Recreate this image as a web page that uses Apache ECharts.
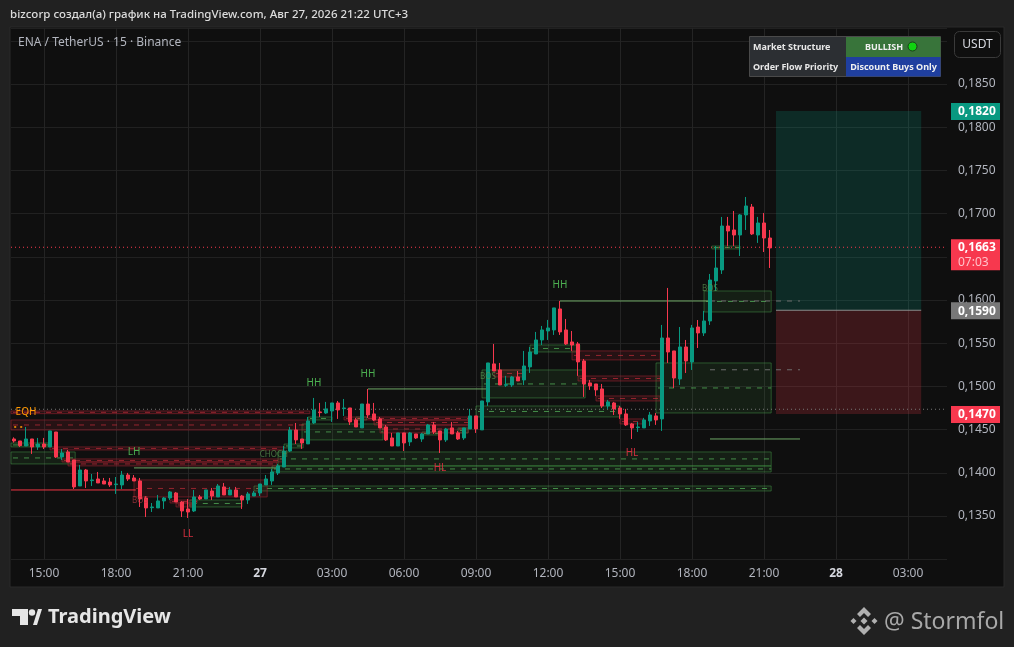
<!DOCTYPE html>
<html><head><meta charset="utf-8">
<style>html,body{margin:0;padding:0;background:#212121}#c{width:1014px;height:647px}</style>
<script src="https://cdn.jsdelivr.net/npm/echarts@6/dist/echarts.min.js"></script>
</head><body><div id="c"></div>
<script>
const opens=[.14391,.14368,.14310,.14391,.14299,.14333,.14299,.14472,.14183,.14241,.14148,.13847,.14032,.13909,.13928,.13905,.13893,.13863,.13859,.13974,.13940,.13905,.13708,.13596,.13593,.13674,.13708,.13766,.13662,.13581,.13558,.13720,.13697,.13789,.13720,.13836,.13743,.13801,.13731,.13685,.13731,.13766,.13859,.13905,.13998,.14067,.14252,.14495,.14391,.14334,.14577,.14704,.14692,.14715,.14808,.14742,.14750,.14611,.14519,.14796,.14681,.14623,.14530,.14403,.14310,.14461,.14357,.14449,.14391,.14449,.14553,.14484,.14380,.14519,.14461,.14403,.14507,.14658,.14496,.14820,.15260,.15190,.15013,.15016,.15109,.15074,.15225,.15375,.15537,.15641,.15653,.15896,.15653,.15514,.15491,.15294,.15040,.15028,.14970,.14773,.14808,.14750,.14681,.14565,.14523,.14519,.14600,.14658,.14623,.15560,.15410,.15086,.15456,.15282,.15687,.15618,.15757,.16220,.16347,.16856,.16810,.16752,.16984,.17076,.16752,.16891,.16717];
const closes=[.14368,.14314,.14391,.14299,.14333,.14299,.14484,.14183,.14229,.14125,.13836,.14032,.13905,.13917,.13882,.13870,.13859,.13870,.13974,.13928,.13905,.13697,.13593,.13604,.13674,.13708,.13778,.13662,.13558,.13546,.13720,.13697,.13801,.13731,.13847,.13743,.13801,.13720,.13685,.13755,.13766,.13870,.13928,.14009,.14079,.14252,.14495,.14380,.14345,.14600,.14727,.14696,.14739,.14808,.14727,.14750,.14588,.14530,.14796,.14669,.14611,.14519,.14380,.14310,.14461,.14345,.14461,.14403,.14449,.14553,.14472,.14380,.14507,.14449,.14391,.14519,.14658,.14507,.14831,.15271,.15178,.15016,.15020,.15109,.15063,.15236,.15398,.15537,.15653,.15676,.15908,.15630,.15491,.15479,.15283,.15028,.15005,.14959,.14773,.14820,.14739,.14681,.14554,.14519,.14530,.14611,.14669,.14611,.15560,.15398,.15097,.15456,.15294,.15676,.15618,.15757,.16231,.16370,.16856,.16798,.16752,.16984,.17088,.16764,.16891,.16717,.16602];
const lows=[.14349,.14299,.14310,.14218,.14264,.14275,.14299,.14171,.14148,.14125,.13812,.13847,.13824,.13847,.13882,.13870,.13836,.13755,.13812,.13905,.13905,.13604,.13488,.13546,.13593,.13581,.13685,.13662,.13488,.13477,.13546,.13685,.13697,.13685,.13720,.13743,.13743,.13720,.13581,.13639,.13731,.13731,.13859,.13859,.13974,.14067,.14241,.14333,.14276,.14334,.14565,.14646,.14681,.14588,.14623,.14658,.14553,.14530,.14519,.14634,.14600,.14519,.14368,.14310,.14310,.14252,.14310,.14391,.14357,.14449,.14449,.14229,.14357,.14449,.14380,.14380,.14507,.14461,.14496,.14773,.15178,.15016,.14993,.14993,.15063,.15016,.15155,.15375,.15479,.15537,.15595,.15595,.15479,.15410,.15121,.14878,.14959,.14889,.14750,.14739,.14669,.14623,.14542,.14391,.14472,.14519,.14542,.14554,.14484,.15271,.14981,.15016,.15155,.15190,.15444,.15583,.15711,.16104,.16301,.16625,.16625,.16509,.16810,.16752,.16660,.16555,.16370];
const highs=[.14410,.14368,.14530,.14391,.14403,.14403,.14484,.14472,.14275,.14264,.14148,.14090,.14044,.13986,.14009,.13940,.13940,.13951,.14021,.13998,.13974,.13940,.13731,.13650,.13743,.13720,.13789,.13778,.13674,.13697,.13801,.13743,.13801,.13824,.13870,.13882,.13836,.13836,.13743,.13778,.13789,.13870,.13974,.14044,.14102,.14310,.14530,.14576,.14391,.14646,.14866,.14808,.14820,.14808,.14831,.14854,.14750,.14634,.14796,.14970,.14808,.14646,.14553,.14461,.14461,.14461,.14472,.14449,.14461,.14565,.14588,.14484,.14519,.14588,.14484,.14519,.14739,.14658,.14831,.15271,.15491,.15271,.15121,.15121,.15178,.15410,.15456,.15630,.15699,.15769,.15908,.15989,.15780,.15641,.15514,.15317,.15074,.15028,.15028,.14843,.14820,.14773,.14739,.14577,.14588,.14635,.14704,.14692,.15711,.16139,.15410,.15687,.15537,.15711,.15768,.15873,.16301,.16625,.16961,.16961,.17030,.16995,.17192,.17111,.16961,.17007,.16810];

const xTickLabels=['15:00','18:00','21:00','27','03:00','06:00','09:00','12:00','15:00','18:00','21:00','28','03:00'];
const yTickLabels=['0,1350','0,1400','0,1450','0,1500','0,1550','0,1600','0,1650','0,1700','0,1750','0,1800','0,1850'];

// start candle, end candle, upper price, lower price
const bearZones=[[-.5,49.3,.14715,.14684],[-.5,49,.14611,.14495],[6,45,.14299,.14264],[8,45,.1416,.14125],[9,43.8,.14125,.14079],[20,42.2,.13917,.1372],[26,30.5,.13685,.1365],[27,29.8,.1365,.13604],[55,75.7,.14646,.14611],[60,75.7,.14611,.14553],[61,75.7,.14553,.14461],[80,84.8,.1519,.15109],[93,107.7,.1541,.15306],[94,107.7,.1512,.15062],[97,107.7,.14889,.14831],[101,104.8,.14623,.14565]];
const bullZones=[[-.5,6,.14345,.14299],[-.5,10.2,.14241,.14102],[29.3,38,.13685,.13604],[40,126.2,.13847,.13789],[44,126.2,.14241,.14079],[43,126.2,.14079,.14009],[45,48.2,.14333,.14287],[48,61.5,.14565,.1438],[49,53,.14646,.14611],[57,58.8,.14646,.14611],[68,71,.14472,.14437],[74,75.7,.14519,.14461],[77,101,.14773,.14646],[78,95.2,.1519,.14866],[86,94.3,.15479,.15398],[107,126.2,.15271,.14692],[115,126.2,.16104,.15861],[116.3,121,.16625,.1659]];
const longProfit=[[127,151.2,.18188,.15881]];
const longRisk=[[127,151.2,.15881,.14681]];

// start candle, end candle, price
const greenLevels=[[20,43.8,.14056],[59,78.7,.1497],[91,116,.15988],[116,131,.14391]];
const redLevels=[[-.5,20.3,.13801]];
const grayDashLevels=[[116,131,.15988],[116,131,.15192]];
const entryLevel=[[127,151.2,.15881]];
const lastPriceLevel=[[-.5,155.5,.16610]];
const stopDotLevel=[[-.5,155.5,.14735]];

// candle, price, text
const bullLabels=[[50,.1504,'HH'],[59,.15144,'HH'],[91,.16174,'HH'],[20,.14241,'LH']];
const bearLabels=[[29,.13292,'LL'],[71,.14056,'HL'],[103,.14229,'HL']];
const eqhLabels=[[2,.14704,'EQH']];
const dimBullLabels=[[79,.15109,'BOS'],[116,.16127,'BOS'],[43.3,.14206,'CHOCH']];
const dimBearLabels=[[21,.13674,'BOS']];
const eqhDots=[[0.2,.1453],[1.2,.1453]];

// price, text
const tpTag=[[.18188,'0,1820']];
const entryTag=[[.15881,'0,1590']];
const slTag=[[.14681,'0,1470']];
const lastTag=[[.1661,'0,1663','07:03']];

const categories=[];
for(let i=0;i<156;i++){
  const m=13*60+45+i*15, h=Math.floor(m/60)%24, d=Math.floor(m/1440);
  categories.push(h===0&&m%60===0?String(26+d):String(h).padStart(2,'0')+':'+String(m%60).padStart(2,'0'));
}
const isTick=(i,v)=>xTickLabels.includes(v);

const FONT='"Noto Sans",sans-serif';
const UP='#089981',DOWN='#f7384e';

function zoneSeries(data,fill,stroke,dashColor,z,dashed){
  return {type:'custom',xAxisIndex:1,yAxisIndex:0,z,data,encode:{x:[0,1],y:[2,3]},silent:true,
    renderItem(p,api){
      const a=api.coord([api.value(0),api.value(2)]),b=api.coord([api.value(1),api.value(3)]);
      const mid=(a[1]+b[1])/2;
      const kids=[{type:'rect',shape:{x:a[0],y:a[1],width:b[0]-a[0],height:b[1]-a[1]},style:{fill,stroke,lineWidth:1}}];
      if(dashed)kids.push({type:'line',shape:{x1:a[0]+2,y1:mid,x2:b[0],y2:mid},style:{stroke:dashColor,lineWidth:1,lineDash:[5,6]}});
      return {type:'group',children:kids};
    }};
}
function levelSeries(data,stroke,z,lineDash,width){
  return {type:'custom',xAxisIndex:1,yAxisIndex:0,z,data,encode:{x:[0,1],y:2},silent:true,
    renderItem(p,api){
      const a=api.coord([api.value(0),api.value(2)]),b=api.coord([api.value(1),api.value(2)]);
      return {type:'line',shape:{x1:a[0],y1:a[1],x2:b[0],y2:b[1]},style:{stroke,lineWidth:width||1,lineDash:lineDash||null}};
    }};
}
function labelSeries(data,fill,size,weight){
  return {type:'custom',xAxisIndex:1,yAxisIndex:0,z:8,data,encode:{x:0,y:1},silent:true,
    renderItem(p,api){
      const c=api.coord([api.value(0),api.value(1)]);
      return {type:'text',x:c[0],y:c[1],style:{text:data[p.dataIndex][2],fill,font:(weight||'normal')+' '+size+'px '+FONT,align:'center',verticalAlign:'middle'}};
    }};
}
function tagSeries(data,bg,tall){
  return {type:'custom',xAxisIndex:1,yAxisIndex:0,z:20,clip:false,data,encode:{y:0},silent:true,
    renderItem(p,api){
      const y=api.coord([0,api.value(0)])[1];
      const x=p.coordSys.x+p.coordSys.width+4, w=49, d=data[p.dataIndex];
      const kids=[];
      if(tall){
        kids.push({type:'rect',shape:{x,y:y-8,width:w,height:31},style:{fill:bg}});
        kids.push({type:'text',x:x+7,y:y,style:{text:d[1],fill:'#fff',font:'bold 12px '+FONT,verticalAlign:'middle'}});
        kids.push({type:'text',x:x+7,y:y+15,style:{text:d[2],fill:'#ffc2c9',font:'12px '+FONT,verticalAlign:'middle'}});
      }else{
        kids.push({type:'rect',shape:{x,y:y-8,width:w,height:17},style:{fill:bg}});
        kids.push({type:'text',x:x+7,y:y+1,style:{text:d[1],fill:'#fff',font:'bold 12px '+FONT,verticalAlign:'middle'}});
      }
      return {type:'group',children:kids};
    }};
}

const RF='rgba(190,40,55,.13)',RS='rgba(150,35,48,.6)',RD='rgba(225,50,65,.6)';
const GF='rgba(76,175,80,.10)',GS='rgba(76,175,80,.42)',GD='rgba(90,190,95,.7)';

const G=(o)=>Object.assign({silent:true,z:50},o);
const chart=echarts.init(document.getElementById('c'),null,{renderer:'canvas'});
chart.setOption({
  animation:false,backgroundColor:'#212121',
  grid:{left:11,top:27.8,width:936,height:531.36,containLabel:false},
  xAxis:[{type:'category',data:categories,boundaryGap:true,
      axisLine:{show:false},axisTick:{show:false},
      axisLabel:{interval:isTick,margin:8,color:'#b2b5be',fontFamily:FONT,fontSize:12,
        formatter:v=>/^\d+$/.test(v)?'{d|'+v+'}':v,rich:{d:{color:'#d6d8df',fontWeight:'bold',fontSize:12,fontFamily:FONT}}},
      splitLine:{show:true,interval:isTick,alignWithLabel:true,lineStyle:{color:'#242424',width:1}}},
    {type:'value',min:-.5,max:155.5,show:false,splitLine:{show:false}}],
  yAxis:[{type:'value',position:'right',min:.13,max:.1915,interval:.005,
      axisLine:{show:false},axisTick:{show:false},
      axisLabel:{margin:11,color:'#b2b5be',fontFamily:FONT,fontSize:12,padding:[2,0,0,0],
        formatter:v=>{const s=v.toFixed(4).replace('.',',');return yTickLabels.includes(s)?s:'';}},
      splitLine:{show:true,lineStyle:{color:'#212121',width:1}}}],
  series:[
    zoneSeries(bullZones,GF,GS,GD,2,true),
    zoneSeries(bearZones,RF,RS,RD,3,true),
    zoneSeries(longProfit,'rgba(8,153,129,.21)','transparent','',1,false),
    zoneSeries(longRisk,'rgba(242,54,69,.2)','transparent','',1,false),
    levelSeries(stopDotLevel,'#777777',4,[1,3]),
    levelSeries(lastPriceLevel,'#f7384e',4,[1,3]),
    levelSeries(greenLevels,'#6fa866',4),
    levelSeries(redLevels,'#f23645',4),
    levelSeries(grayDashLevels,'#6e6e6e',4,[5,6]),
    levelSeries(entryLevel,'#8a8a8a',4,null,1.2),
    {type:'candlestick',xAxisIndex:0,yAxisIndex:0,z:6,barWidth:4,silent:true,
      data:opens.map((o,i)=>[o,closes[i],lows[i],highs[i]]),
      itemStyle:{color:UP,color0:DOWN,borderColor:UP,borderColor0:DOWN,borderWidth:1}},
    labelSeries(bullLabels,'#4caf50',10),
    labelSeries(bearLabels,'#d32f3f',10),
    labelSeries(eqhLabels,'#ff9800',10),
    labelSeries(dimBullLabels,'rgba(90,150,80,.75)',8),
    labelSeries(dimBearLabels,'rgba(190,60,70,.7)',8),
    {type:'scatter',xAxisIndex:1,yAxisIndex:0,z:8,data:eqhDots,symbol:'rect',symbolSize:2,itemStyle:{color:'#ff9800'},silent:true},
    tagSeries(tpTag,UP),
    tagSeries(entryTag,'#787878'),
    tagSeries(slTag,DOWN),
    tagSeries(lastTag,DOWN,true)
  ],
  graphic:{elements:[
    {type:'rect',z:-10,silent:true,shape:{x:10,y:27,width:994,height:560},style:{fill:'#0f0f0f',stroke:'#2b2b2b',lineWidth:1}},
    G({type:'text',x:10,y:15,style:{text:'bizcorp создал(а) график на TradingView.com, Авг 27, 2026 21:22 UTC+3',fill:'#dcdcdc',font:'500 11.5px '+FONT,verticalAlign:'middle'}}),
    G({type:'text',x:18,y:43,style:{text:'ENA / TetherUS · 15 · Binance',fill:'#b2b5be',font:'12px '+FONT,verticalAlign:'middle'}}),
    G({type:'rect',shape:{x:954.5,y:31.5,width:46,height:26,r:5},style:{fill:'#0f0f0f',stroke:'#3a3a3a',lineWidth:1}}),
    G({type:'text',x:977.5,y:45,style:{text:'USDT',fill:'#d6d8df',font:'12px '+FONT,align:'center',verticalAlign:'middle'}}),
    G({type:'rect',shape:{x:749.5,y:36.5,width:191,height:40},style:{fill:'#2c2f33',stroke:'#4a4a4a',lineWidth:1}}),
    G({type:'rect',shape:{x:846,y:37,width:94.5,height:20},style:{fill:'#38743a'}}),
    G({type:'rect',shape:{x:846,y:57,width:94.5,height:19.5},style:{fill:'#1f3f9f'}}),
    G({type:'text',x:753,y:47,style:{text:'Market Structure',fill:'#e8e8e8',font:'bold 9px '+FONT,verticalAlign:'middle'}}),
    G({type:'text',x:753,y:67.5,style:{text:'Order Flow Priority',fill:'#e8e8e8',font:'bold 9px '+FONT,verticalAlign:'middle'}}),
    G({type:'text',x:884,y:47,style:{text:'BULLISH',fill:'#f0f0f0',font:'bold 9px '+FONT,align:'center',verticalAlign:'middle'}}),
    G({type:'circle',shape:{cx:912.5,cy:46.5,r:4.5},style:{fill:'#10d410',stroke:'#1c3a1c',lineWidth:1}}),
    G({type:'text',x:893.5,y:67.5,style:{text:'Discount Buys Only',fill:'#f0f0f0',font:'bold 9px '+FONT,align:'center',verticalAlign:'middle'}}),
    G({type:'polygon',shape:{points:[[12,609],[28,609],[28,625],[20,625],[20,616],[12,616]]},style:{fill:'#e6e6e6'}}),
    G({type:'circle',shape:{cx:32,cy:612.5,r:3.2},style:{fill:'#e6e6e6'}}),
    G({type:'polygon',shape:{points:[[33,625],[38,609],[42,609],[37,625]]},style:{fill:'#e6e6e6'}}),
    G({type:'text',x:48,y:617,style:{text:'TradingView',fill:'#e6e6e6',font:'bold 20px '+FONT,verticalAlign:'middle'}}),
    G({type:'polygon',shape:{points:[[864,607],[871,614],[868,617],[864,613],[860,617],[857,614]]},style:{fill:'#b0b0b0'}}),
    G({type:'polygon',shape:{points:[[864,635],[871,628],[868,625],[864,629],[860,625],[857,628]]},style:{fill:'#b0b0b0'}}),
    G({type:'polygon',shape:{points:[[864,617.5],[867.5,621],[864,624.5],[860.5,621]]},style:{fill:'#b0b0b0'}}),
    G({type:'polygon',shape:{points:[[853.5,618],[856.5,621],[853.5,624],[850.5,621]]},style:{fill:'#b0b0b0'}}),
    G({type:'polygon',shape:{points:[[874.5,618],[877.5,621],[874.5,624],[871.5,621]]},style:{fill:'#b0b0b0'}}),
    G({type:'text',x:884,y:622,style:{text:'@ Stormfol',fill:'#a8a8a8',font:'23px '+FONT,verticalAlign:'middle'}})
  ]}
});
</script></body></html>
